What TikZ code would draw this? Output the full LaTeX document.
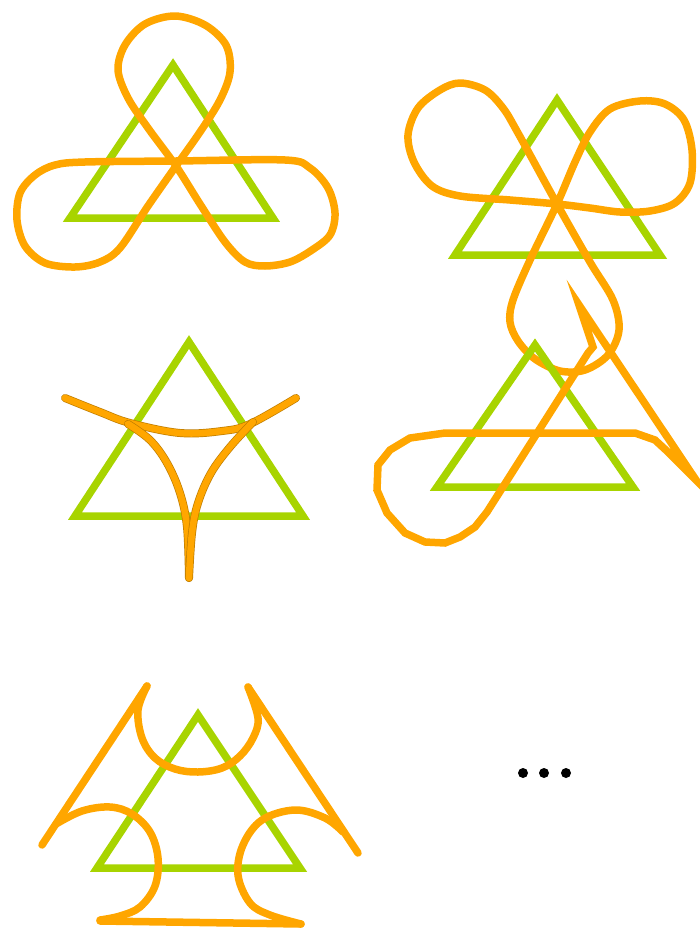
\documentclass[tikz,border=0pt]{standalone}
\usepackage{xcolor}
\usepackage{tikz}
\usetikzlibrary{positioning}
\definecolor{leaf}{HTML}{A8D400}
\definecolor{amber}{HTML}{FFA600}

\begin{document}
\begin{tikzpicture}[x=1pt, y=-1pt,
    frame/.style={draw=leaf, line width=7.5pt, line join=miter},
    knot/.style={draw=amber, line width=7.5pt, line join=round, line cap=round},
    spike/.style={draw=amber, line width=7.5pt, line join=miter, miter limit=12},
    cusp/.style={draw=amber!75!black, line width=8pt, line cap=round, postaction={draw=amber, line width=6.6pt}},
    dot/.style={circle, fill=black, inner sep=0pt, minimum size=10pt}]

    \useasboundingbox (0,0) rectangle (700,934);

    % top left
    \draw [frame] (173,65) -- (273,218) -- (70,218) -- cycle;
    \draw [knot] plot[smooth cycle, tension=0.55] coordinates {
        (176,166) (148,128) (128,98) (118,70) (125,45) (145,24) (175,16) (205,25)
        (226,45) (230,72) (220,100) (200,132) (176,166) (148,206) (120,248) (100,262)
        (75,267) (45,263) (25,246) (17,220) (20,193) (35,175) (55,165) (85,162)
        (176,161) (285,160) (310,168) (328,188) (335,213) (330,235) (312,250) (290,262)
        (265,266) (245,262) (225,242) (200,204)};

    % top right
    \draw [frame] (557,100) -- (660,255) -- (455,255) -- cycle;
    \draw [knot] plot[smooth cycle, tension=0.55] coordinates {
        (557,204) (510,200) (460,196) (432,186) (414,162) (408,135) (418,108) (440,90)
        (460,83) (485,90) (503,108) (518,133) (557,204) (590,262) (613,300) (619,330)
        (608,355) (585,370) (560,371) (535,359) (518,341) (510,322) (513,300) (530,260)
        (557,204) (575,162) (590,132) (610,109) (640,101) (665,104) (684,120) (692,150)
        (690,183) (675,203) (650,211) (620,212) (590,208)};

    % middle left
    \draw [frame] (189,342) -- (303,516) -- (75,516) -- cycle;
    \draw [cusp] plot[smooth, tension=0.6] coordinates {
        (65,398) (100,412) (130,423) (180,433) (222,431) (250,424) (296,398)};
    \draw [cusp] plot[smooth, tension=0.6] coordinates {
        (128,424) (150,440) (167,463) (180,493) (187,527) (189,578)};
    \draw [cusp] plot[smooth, tension=0.6] coordinates {
        (253,422) (230,447) (211,473) (198,503) (192,533) (189,578)};

    % middle right
    \draw [frame] (535,345) -- (633,487) -- (437,487) -- cycle;
    \draw [spike] (579,305) -- (593,347) -- (588,353) -- (487,512) -- (475,527)
        -- (460,537) -- (445,543) -- (425,542) -- (405,533) -- (387,513) -- (377,490)
        -- (378,465) -- (390,450) -- (410,438) -- (445,433) -- (635,433) -- (655,440)
        -- (668,452) -- (696,480) -- cycle;

    % bottom left
    \draw [frame] (198,715) -- (300,868) -- (97,868) -- cycle;
    \draw [knot] (42,845) -- (147,686);
    \draw [knot] (248,687) -- (358,853);
    \draw [knot] plot[smooth, tension=0.6] coordinates {
        (147,686) (138,710) (142,738) (155,758) (175,769) (198,772) (222,768)
        (240,756) (253,738) (258,718) (248,687)};
    \draw [knot] plot[smooth, tension=0.6] coordinates {
        (56,824) (82,811) (110,807) (132,814) (150,832) (158,858) (155,886)
        (140,907) (120,916) (100,920)};
    \draw [knot] plot[smooth, tension=0.6] coordinates {
        (343,832) (325,818) (295,810) (262,820) (243,845) (238,875) (250,903)
        (270,915) (301,924)};
    \draw [knot] (100,921) -- (301,924);

    % more to come
    \node (dotA) [dot] at (523,773) {};
    \node (dotB) [dot] at (544,773) {};
    \node (dotC) [dot] at (566,773) {};
\end{tikzpicture}
\end{document}
